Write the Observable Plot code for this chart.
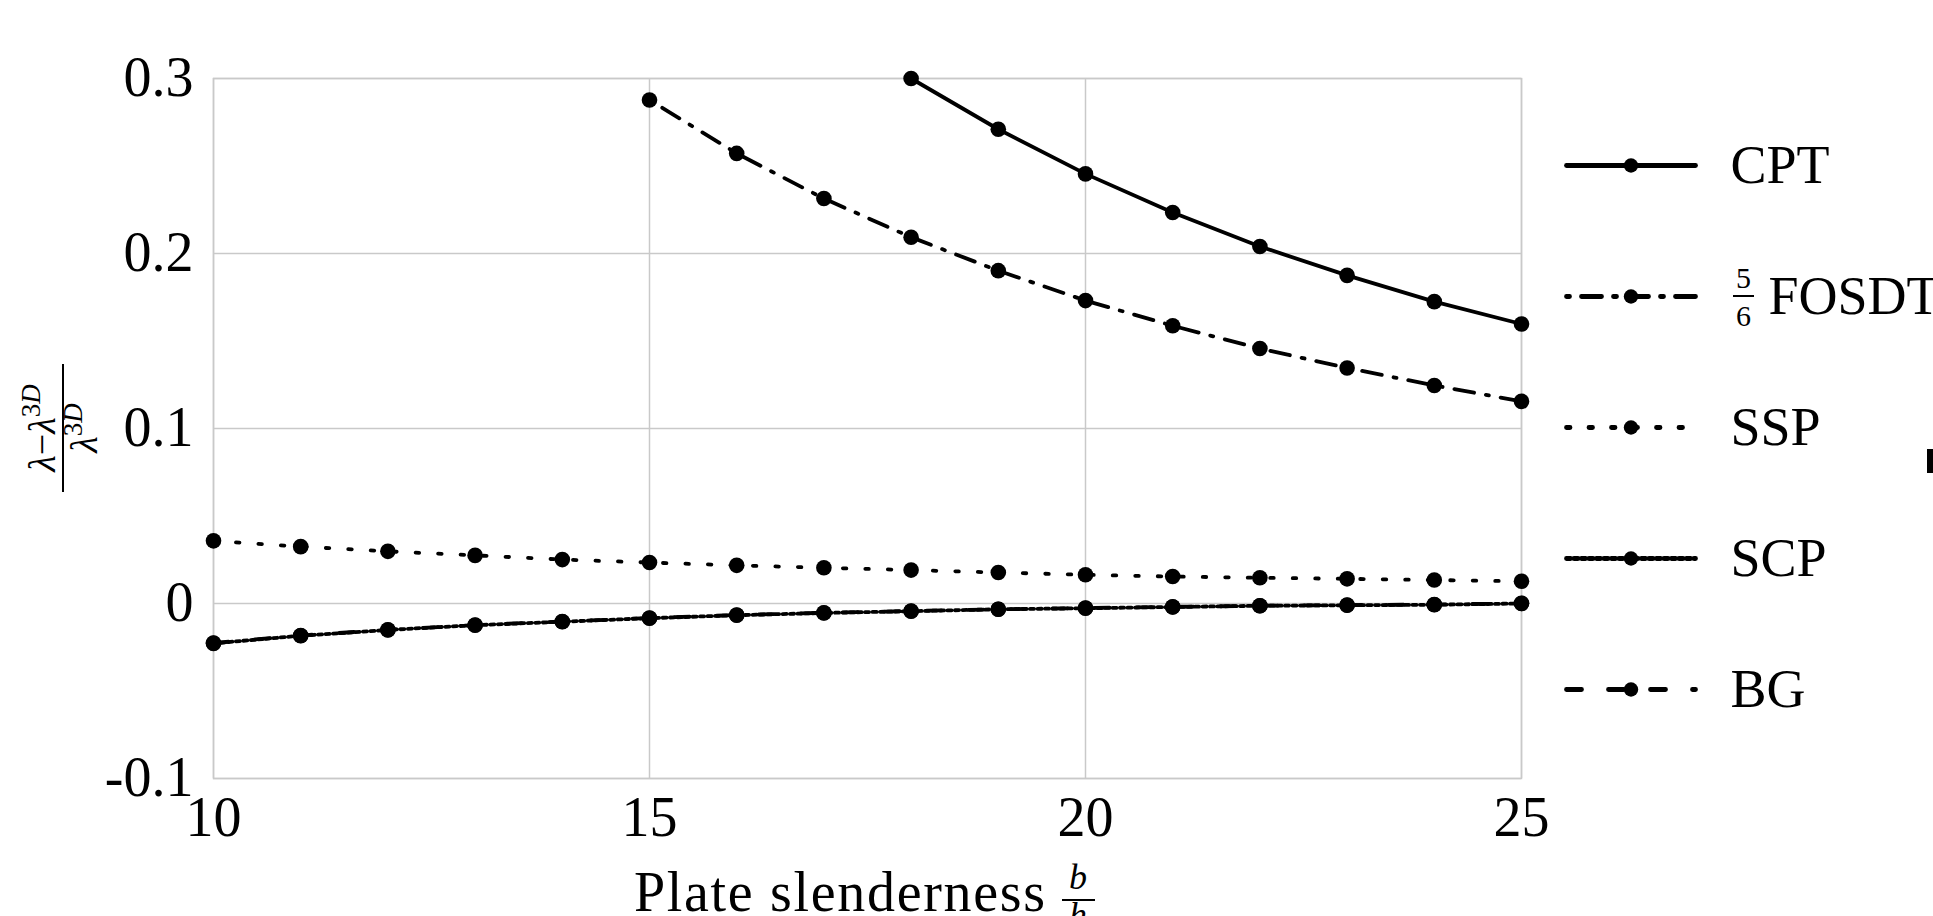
<!DOCTYPE html>
<html><head><meta charset="utf-8">
<script src="https://cdn.jsdelivr.net/npm/d3@7"></script>
<script src="https://cdn.jsdelivr.net/npm/@observablehq/plot@0.6"></script>
<style>
html,body{margin:0;padding:0;background:#fff;}
#wrap{position:relative;width:1933px;height:916px;overflow:hidden;background:#fff;}
#chart{position:absolute;left:0;top:0;}
#legend{position:absolute;left:1540px;top:100px;}
#speck{position:absolute;left:1927px;top:449px;width:6px;height:24px;background:#000;}
</style></head><body>
<div id="wrap"><div id="chart"></div><div id="legend"></div><div id="speck"></div></div>
<script>
// ---- data ----
const slenderness = [10,11,12,13,14,15,16,17,18,19,20,21,22,23,24,25];
const CPT   = [null,null,null,null,null,null,null,null,0.300,0.271,0.2455,0.2234,0.204,0.1875,0.1725,0.1597];
const FOSDT = [null,null,null,null,null,0.2877,0.2572,0.2314,0.2093,0.1902,0.1731,0.1587,0.1457,0.1346,0.1246,0.1155];
const SSP   = [0.0358,0.0325,0.0298,0.0275,0.0251,0.0234,0.0218,0.0204,0.0191,0.0177,0.0164,0.0154,0.0147,0.0141,0.0134,0.0127];
const SCP   = [-0.0228,-0.0184,-0.0151,-0.0124,-0.0104,-0.0084,-0.0067,-0.0054,-0.0044,-0.0033,-0.0027,-0.0020,-0.0013,-0.0010,-0.0007,0.0000];
const BG    = [-0.0226,-0.0183,-0.0150,-0.0123,-0.0103,-0.0083,-0.0066,-0.0053,-0.0043,-0.0033,-0.0026,-0.0019,-0.0013,-0.0009,-0.0006,0.0001];
const seriesNames = ["CPT","FOSDT","SSP","SCP","BG"];
const seriesValues = [CPT, FOSDT, SSP, SCP, BG];
const xTicks = [10,15,20,25];
const xTickLabels = ["10","15","20","25"];
const yTicks = [-0.1,0,0.1,0.2,0.3];
const yTickLabels = ["-0.1","0","0.1","0.2","0.3"];

// ---- styles ----
const styles = {
  CPT:   {dash: null},
  FOSDT: {dash: "3,12,20,12"},
  SSP:   {dash: "3.5,19"},
  SCP:   {dash: "4,3.5"},
  BG:    {dash: "15,27"}
};
const FONT = "'Liberation Serif', 'DejaVu Serif', serif";
const GRID = "#c9c9c9";

const rows = [];
seriesNames.forEach((name, k) => {
  seriesValues[k].forEach((v, i) => { if (v !== null) rows.push({series: name, x: slenderness[i], y: v}); });
});
const fmt = (ticks, labels) => d => labels[ticks.findIndex(t => Math.abs(t - d) < 1e-9)];

const lineMarks = [];
const dotMarks = [];
seriesNames.forEach(name => {
  const data = rows.filter(r => r.series === name);
  lineMarks.push(Plot.line(data, {x: "x", y: "y", stroke: "black", strokeWidth: 3.8, strokeDasharray: styles[name].dash}));
  dotMarks.push(Plot.dot(data, {x: "x", y: "y", r: 7.8, fill: "black", stroke: "none"}));
});

const chart = Plot.plot({
  width: 1933, height: 916,
  marginLeft: 213, marginRight: 412, marginTop: 78, marginBottom: 138,
  style: {fontFamily: FONT, background: "white", color: "black"},
  x: {domain: [10, 25], label: null},
  y: {domain: [-0.1, 0.3], label: null},
  marks: [
    Plot.gridX(xTicks, {stroke: GRID, strokeOpacity: 1, strokeWidth: 1.5}),
    Plot.gridY(yTicks, {stroke: GRID, strokeOpacity: 1, strokeWidth: 1.5}),
    Plot.frame({stroke: GRID, strokeWidth: 1.5}),
    ...lineMarks,
    ...dotMarks,
    Plot.axisX({ticks: xTicks, tickFormat: fmt(xTicks, xTickLabels), tickSize: 0, tickPadding: 18, fontSize: 56, label: null, fill: "black"}),
    Plot.axisY({ticks: yTicks, tickFormat: fmt(yTicks, yTickLabels), tickSize: 0, tickPadding: 20, fontSize: 56, label: null, fill: "black"})
  ]
});
document.getElementById("chart").appendChild(chart);

// axis titles
const svg = d3.select(chart);
const xl = svg.append("g").attr("font-family", FONT).attr("fill", "black");
xl.append("text").attr("x", 634).attr("y", 911).attr("font-size", 56).attr("text-anchor", "start")
  .attr("textLength", 411).attr("lengthAdjust", "spacing").text("Plate slenderness");
xl.append("text").attr("x", 1078).attr("y", 889).attr("font-size", 36).attr("font-style", "italic")
  .attr("text-anchor", "middle").text("b");
xl.append("line").attr("x1", 1062).attr("x2", 1095).attr("y1", 900).attr("y2", 900).attr("stroke", "black").attr("stroke-width", 2);
xl.append("text").attr("x", 1078).attr("y", 927).attr("font-size", 36).attr("font-style", "italic")
  .attr("text-anchor", "middle").text("h");

const yl = svg.append("g").attr("font-family", FONT).attr("fill", "black")
  .attr("transform", "translate(63,428) rotate(-90)");
const num = yl.append("text").attr("x", 0).attr("y", -8).attr("font-size", 38).attr("text-anchor", "middle");
num.append("tspan").attr("font-style", "italic").text("λ");
num.append("tspan").text("−");
num.append("tspan").attr("font-style", "italic").text("λ");
num.append("tspan").attr("font-size", 27).attr("dy", -15).text("3");
num.append("tspan").attr("font-size", 27).attr("font-style", "italic").text("D");
yl.append("line").attr("x1", -64).attr("x2", 64).attr("y1", 0).attr("y2", 0).attr("stroke", "black").attr("stroke-width", 2);
const den = yl.append("text").attr("x", 0).attr("y", 34).attr("font-size", 38).attr("text-anchor", "middle");
den.append("tspan").attr("font-style", "italic").text("λ");
den.append("tspan").attr("font-size", 27).attr("dy", -15).text("3");
den.append("tspan").attr("font-size", 27).attr("font-style", "italic").text("D");

// ---- legend ----
const legendLines = seriesNames.map(name =>
  Plot.line([{t: 0, n: name}, {t: 1, n: name}], {x: "t", y: "n", stroke: "black", strokeWidth: 4.8, strokeDasharray: styles[name].dash}));
const plainNames = seriesNames.filter(n => n !== "FOSDT");
const legend = Plot.plot({
  width: 393, height: 680,
  style: {fontFamily: FONT, background: "transparent", color: "black", overflow: "visible"},
  x: {domain: [0, 1], range: [26, 155], axis: null},
  y: {type: "point", domain: seriesNames, range: [64, 589], padding: 0, axis: null},
  marks: [
    ...legendLines,
    Plot.dot(seriesNames, {x: () => 0.5, y: d => d, r: 7.2, fill: "black"}),
    Plot.text(plainNames, {x: () => 1, y: d => d, text: d => d, dx: 35, textAnchor: "start", fontSize: 54, fill: "black"}),
    Plot.text(["FOSDT"], {x: () => 1, y: d => d, text: d => d, dx: 73, textAnchor: "start", fontSize: 54, fill: "black"}),
    Plot.text(["FOSDT"], {x: () => 1, y: d => d, text: () => "5", dx: 48, dy: -18, fontSize: 30, fill: "black"}),
    Plot.text(["FOSDT"], {x: () => 1, y: d => d, text: () => "6", dx: 48, dy: 20, fontSize: 30, fill: "black"})
  ]
});
document.getElementById("legend").appendChild(legend);
const lx = legend.scale("x").apply(1), ly = legend.scale("y").apply("FOSDT");
d3.select(legend).append("line").attr("x1", lx + 38).attr("x2", lx + 59).attr("y1", ly).attr("y2", ly)
  .attr("stroke", "black").attr("stroke-width", 2);
</script>
</body></html>
